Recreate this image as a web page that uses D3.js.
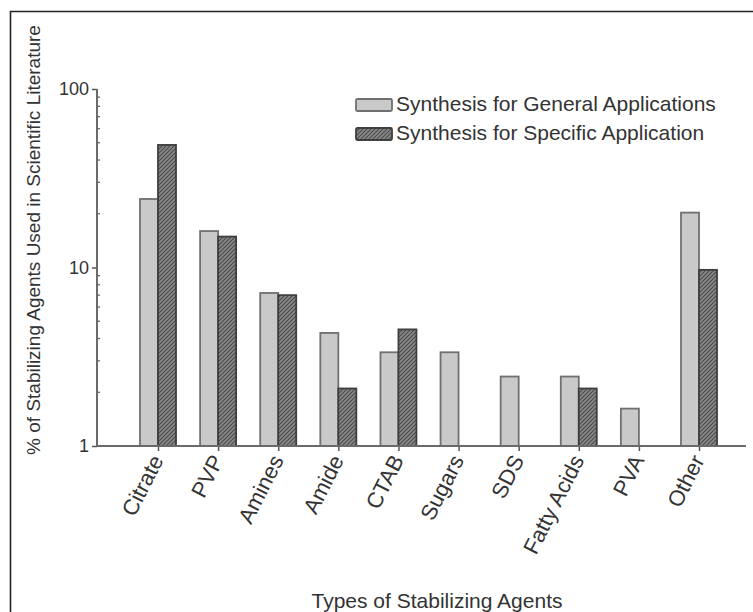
<!DOCTYPE html>
<html>
<head>
<meta charset="utf-8">
<script src="https://cdn.jsdelivr.net/npm/d3@7"></script>
<style>
  html, body { margin: 0; padding: 0; background: #fff; }
  svg { display: block; font-family: "Liberation Sans", Arial, Helvetica, sans-serif; }
</style>
</head>
<body>
<svg id="chart" width="753" height="612"></svg>
<script>
// Stabilizing agent usage, percent of papers (log scale)
const categories = ["Citrate", "PVP", "Amines", "Amide", "CTAB", "Sugars", "SDS", "Fatty Acids", "PVA", "Other"];
const generalValues = [24.2, 16.0, 7.2, 4.3, 3.35, 3.35, 2.45, 2.45, 1.62, 20.3];
const specificValues = [48.6, 14.9, 7.0, 2.1, 4.5, null, null, 2.1, null, 9.7];
const seriesNames = ["Synthesis for General Applications", "Synthesis for Specific Application"];
const yTickValues = [1, 10, 100];
const yMinorValues = [2, 3, 4, 5, 6, 7, 8, 9, 20, 30, 40, 50, 60, 70, 80, 90];

const svg = d3.select("#chart");

// hatch used for the specific-application series
const defs = svg.append("defs");
const pat = defs.append("pattern")
  .attr("id", "hatch")
  .attr("patternUnits", "userSpaceOnUse")
  .attr("width", 4).attr("height", 4);
pat.append("rect").attr("width", 4).attr("height", 4).attr("fill", "#888");
pat.append("path")
  .attr("d", "M-1,1 l2,-2 M0,4 l4,-4 M3,5 l2,-2")
  .attr("stroke", "#4a4a4a").attr("stroke-width", 1.1);

// frame around the figure
svg.append("path")
  .attr("d", "M10.5,612 V11.5 H753")
  .attr("fill", "none").attr("stroke", "#222").attr("stroke-width", 1.6);

const axisLeftX = 97, axisRightX = 746;
const x = d3.scalePoint().domain(categories).range([158, 699]);
const y = d3.scaleLog().domain([1, 100]).range([446, 89]);
const barW = 18;

// bars
const g = svg.append("g");
categories.forEach((c, i) => {
  const cx = x(c);
  const gv = generalValues[i];
  if (gv != null) {
    g.append("rect")
      .attr("x", cx - barW).attr("y", y(gv))
      .attr("width", barW).attr("height", y(1) - y(gv))
      .attr("fill", "#c9c9c9").attr("stroke", "#707070").attr("stroke-width", 1.8);
  }
  const sv = specificValues[i];
  if (sv != null) {
    g.append("rect")
      .attr("x", cx).attr("y", y(sv))
      .attr("width", barW).attr("height", y(1) - y(sv))
      .attr("fill", "url(#hatch)").attr("stroke", "#3e3e3e").attr("stroke-width", 1.8);
  }
});

// y axis
const yAxis = d3.axisLeft(y)
  .tickValues(yTickValues)
  .tickFormat(d3.format("d"))
  .tickSize(5).tickPadding(3);
const ya = svg.append("g").attr("transform", `translate(${axisLeftX},0)`).call(yAxis);
ya.select(".domain").remove();
ya.selectAll(".tick line").attr("stroke", "#555").attr("stroke-width", 1.5);
ya.selectAll(".tick text")
  .attr("fill", "#333").attr("font-size", 18).style("font-family", "Liberation Sans, Arial, sans-serif");
svg.append("line")
  .attr("x1", axisLeftX).attr("x2", axisLeftX).attr("y1", y(100)).attr("y2", y(1))
  .attr("stroke", "#6a6a6a").attr("stroke-width", 2);
// minor ticks pointing inward
svg.append("g").selectAll("line").data(yMinorValues).join("line")
  .attr("x1", axisLeftX).attr("x2", axisLeftX + 3)
  .attr("y1", d => y(d)).attr("y2", d => y(d))
  .attr("stroke", "#666").attr("stroke-width", 1.3);

// x axis
const xAxis = d3.axisBottom(x).tickSize(5).tickFormat("");
const xa = svg.append("g").attr("transform", `translate(0,${y(1)})`).call(xAxis);
xa.select(".domain").remove();
xa.selectAll(".tick line").attr("stroke", "#555").attr("stroke-width", 1.5);
svg.append("line")
  .attr("x1", axisLeftX).attr("x2", axisRightX).attr("y1", y(1)).attr("y2", y(1))
  .attr("stroke", "#6a6a6a").attr("stroke-width", 2);

// rotated category labels
svg.append("g").selectAll("text").data(categories).join("text")
  .attr("transform", d => `translate(${x(d) + 6},${y(1) + 14}) rotate(-63)`)
  .attr("text-anchor", "end")
  .attr("fill", "#333").attr("font-size", 22)
  .text(d => d);

// axis titles
svg.append("text")
  .attr("transform", "translate(437,608)")
  .attr("text-anchor", "middle")
  .attr("fill", "#333").attr("font-size", 21)
  .text("Types of Stabilizing Agents");
svg.append("text")
  .attr("transform", "translate(40,240) rotate(-90)")
  .attr("text-anchor", "middle")
  .attr("fill", "#333").attr("font-size", 19)
  .text("% of Stabilizing Agents Used in Scientific Literature");

// legend
const legend = svg.append("g").attr("transform", "translate(356,99)");
const swFill = ["#c9c9c9", "url(#hatch)"];
const swStroke = ["#707070", "#3e3e3e"];
seriesNames.forEach((name, i) => {
  const row = legend.append("g").attr("transform", `translate(0,${i * 29})`);
  row.append("rect")
    .attr("x", 0).attr("y", 0).attr("width", 36).attr("height", 12)
    .attr("rx", 1.5)
    .attr("fill", swFill[i]).attr("stroke", swStroke[i]).attr("stroke-width", 1.8);
  row.append("text")
    .attr("x", 40).attr("y", 12)
    .attr("fill", "#333").attr("font-size", 21)
    .text(name);
});
</script>
</body>
</html>
